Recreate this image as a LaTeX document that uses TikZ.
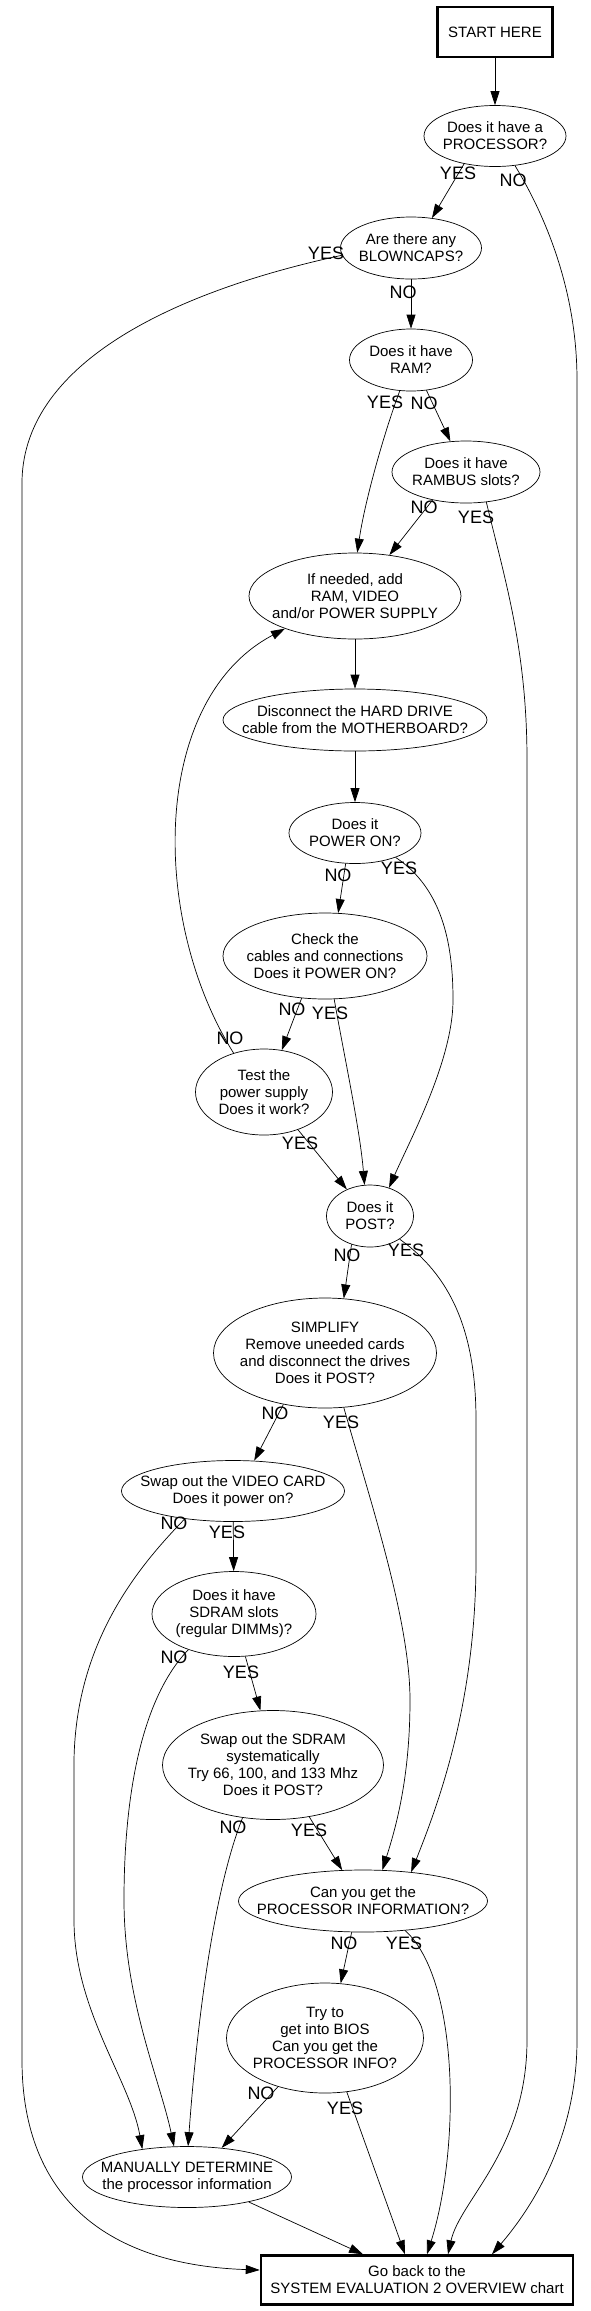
\documentclass[tikz,border=0pt]{standalone}
\usepackage{fontspec}
\setmainfont{Liberation Sans}
\usetikzlibrary{arrows.meta, shapes.geometric}

\begin{document}
\begin{tikzpicture}[
  x=1pt, y=-1pt,
  >={Triangle[length=14pt, width=9pt]}, line width=0.7pt,
  question/.style = {draw, ellipse, inner sep=-30pt, align=center, font=\fontsize{15}{17}\selectfont},
  term/.style     = {draw, rectangle, line width=2.5pt, inner sep=0pt, align=center, font=\fontsize{15}{17}\selectfont},
  lbl/.style      = {inner sep=0pt, font=\fontsize{18}{18}\selectfont},
]
\useasboundingbox (0,0) rectangle (591,2311);

%── Nodes ─────────────────────────────────────────────────────────────────────
\node[term, minimum width=115pt, minimum height=50pt]     (start)    at (495,  32) {START HERE};
\node[question, minimum width=142pt, minimum height=61pt] (proc)     at (495, 136) {Does it have a\\PROCESSOR?};
\node[question, minimum width=141pt, minimum height=62pt] (blown)    at (411, 248) {Are there any\\BLOWNCAPS?};
\node[question, minimum width=123pt, minimum height=62pt] (ram)      at (411, 360) {Does it have\\RAM?};
\node[question, minimum width=148pt, minimum height=62pt] (rambus)   at (466, 472) {Does it have\\RAMBUS slots?};
\node[question, minimum width=212pt, minimum height=86pt] (ifneed)   at (355, 596) {If needed, add\\RAM, VIDEO\\and/or POWER SUPPLY};
\node[question, minimum width=264pt, minimum height=62pt] (disc)     at (355, 720) {Disconnect the HARD DRIVE\\cable from the MOTHERBOARD?};
\node[question, minimum width=132pt, minimum height=61pt] (poweron)  at (355, 833) {Does it\\POWER ON?};
\node[question, minimum width=204pt, minimum height=86pt] (cables)   at (325, 956) {Check the\\cables and connections\\Does it POWER ON?};
\node[question, minimum width=137pt, minimum height=86pt] (testps)   at (264,1092) {Test the\\power supply\\Does it work?};
\node[question, minimum width=87pt,  minimum height=62pt] (post)     at (370,1216) {Does it\\POST?};
\node[question, minimum width=223pt, minimum height=110pt](simplify) at (325,1353) {SIMPLIFY\\Remove uneeded cards\\and disconnect the drives\\Does it POST?};
\node[question, minimum width=223pt, minimum height=61pt] (swapvid)  at (233,1491) {Swap out the VIDEO CARD\\Does it power on?};
\node[question, minimum width=164pt, minimum height=85pt] (sdram)    at (234,1614) {Does it have\\SDRAM slots\\(regular DIMMs)?};
\node[question, minimum width=221pt, minimum height=109pt](swapsd)   at (273,1765) {Swap out the SDRAM\\systematically\\Try 66, 100, and 133 Mhz\\Does it POST?};
\node[question, minimum width=249pt, minimum height=62pt] (canget)   at (363,1901) {Can you get the\\PROCESSOR INFORMATION?};
\node[question, minimum width=197pt, minimum height=110pt](bios)     at (325,2038) {Try to\\get into BIOS\\Can you get the\\PROCESSOR INFO?};
\node[question, minimum width=209pt, minimum height=61pt] (manual)   at (187,2177) {MANUALLY DETERMINE\\the processor information};
\node[term, minimum width=312pt, minimum height=49pt]     (sysback)  at (417,2280) {Go back to the\\SYSTEM EVALUATION 2 OVERVIEW chart};

%── Straight wires ────────────────────────────────────────────────────────────
\draw[->] (start)         -- (proc);
\draw[->] (proc.222)      -- (blown.55);
\draw[->] (blown)         -- (ram);
\draw[->] (ram.297)       -- (rambus.117);
\draw[->] (rambus.220)    -- (ifneed.50);
\draw[->] (ifneed)        -- (disc);
\draw[->] (disc)          -- (poweron);
\draw[->] (poweron.253)   -- (cables.73);
\draw[->] (cables.241)    -- (testps.67);
\draw[->] (testps.312)    -- (post.131);
\draw[->] (post.237)      -- (simplify.71);
\draw[->] (simplify.231)  -- (swapvid.55);
\draw[->] (swapvid)       -- (sdram);
\draw[->] (sdram.285)     -- (swapsd.103);
\draw[->] (swapsd.305)    -- (canget.124);
\draw[->] (canget.250)    -- (bios.74);
\draw[->] (bios.226)      -- (manual.40);
\draw[->] (bios.292)      -- ([xshift=-12pt]sysback.north);
\draw[->] (manual.338)    -- ([xshift=-54pt]sysback.north);

%── Curved wires ──────────────────────────────────────────────────────────────
\draw[->] (ram.250) .. controls (385,430) and (365,500) .. (ifneed.87);
\draw[->] (cables.282) .. controls (345,1060) and (360,1130) .. (post.100);
\draw[->] (testps.128) .. controls (150,920) and (150,700) .. (ifneed.205);
\draw[->] (poweron.329) .. controls (445,890) and (453,950) .. (453,1000)
                        .. controls (453,1060) and (410,1140) .. (post.56);
\draw[->] (post.322) .. controls (450,1275) and (476,1330) .. (476,1420) -- (476,1560)
                     .. controls (476,1700) and (440,1800) .. (canget.31);
\draw[->] (simplify.289) .. controls (370,1500) and (410,1620) .. (410,1700)
                         .. controls (410,1780) and (395,1830) .. (canget.58);
\draw[->] (swapvid.210) .. controls (140,1565) and (76,1640) .. (74,1760) -- (74,1920)
                        .. controls (74,2010) and (130,2080) .. (manual.148);
\draw[->] (sdram.218) .. controls (140,1700) and (124,1800) .. (124,1900)
                      .. controls (124,2000) and (160,2080) .. (manual.113);
\draw[->] (swapsd.240) .. controls (210,1900) and (195,2050) .. (manual.88);
\draw[->] (canget.325) .. controls (460,1980) and (460,2150) .. ([xshift=10pt]sysback.north);

%── Long wires to the end box ─────────────────────────────────────────────────
\draw[->] (blown.186) .. controls (180,290) and (25,360) .. (22,480) -- (22,2060)
                      .. controls (22,2200) and (110,2265) .. ([yshift=10pt]sysback.west);
\draw[->] (proc.304) .. controls (545,215) and (577,290) .. (577,380) -- (577,2040)
                     .. controls (577,2140) and (530,2210) .. ([xshift=75pt]sysback.north);
\draw[->] (rambus.304) .. controls (505,580) and (527,650) .. (527,760) -- (527,2040)
                       .. controls (527,2150) and (460,2200) .. ([xshift=31pt]sysback.north);

%── YES / NO labels ───────────────────────────────────────────────────────────
\node[lbl] (procy)  at (458, 173) {YES};  \node[lbl] (procn)  at (513, 180) {NO};
\node[lbl] (blowny) at (326, 253) {YES};  \node[lbl] (blownn) at (403, 292) {NO};
\node[lbl] (ramy)   at (385, 402) {YES};  \node[lbl] (ramn)   at (424, 403) {NO};
\node[lbl] (rambn)  at (424, 507) {NO};   \node[lbl] (ramby)  at (476, 517) {YES};
\node[lbl] (ponn)   at (338, 875) {NO};   \node[lbl] (pony)   at (399, 868) {YES};
\node[lbl] (cabn)   at (292,1009) {NO};   \node[lbl] (caby)   at (330,1013) {YES};
\node[lbl] (testn)  at (230,1038) {NO};   \node[lbl] (testy)  at (300,1143) {YES};
\node[lbl] (postn)  at (347,1255) {NO};   \node[lbl] (posty)  at (406,1250) {YES};
\node[lbl] (simpn)  at (275,1413) {NO};   \node[lbl] (simpy)  at (341,1422) {YES};
\node[lbl] (vidn)   at (174,1523) {NO};   \node[lbl] (vidy)   at (227,1532) {YES};
\node[lbl] (sdn)    at (174,1657) {NO};   \node[lbl] (sdy)    at (241,1672) {YES};
\node[lbl] (swsdn)  at (233,1827) {NO};   \node[lbl] (swsdy)  at (309,1830) {YES};
\node[lbl] (cann)   at (344,1943) {NO};   \node[lbl] (cany)   at (404,1943) {YES};
\node[lbl] (biosn)  at (261,2093) {NO};   \node[lbl] (biosy)  at (345,2108) {YES};

\end{tikzpicture}
\end{document}
